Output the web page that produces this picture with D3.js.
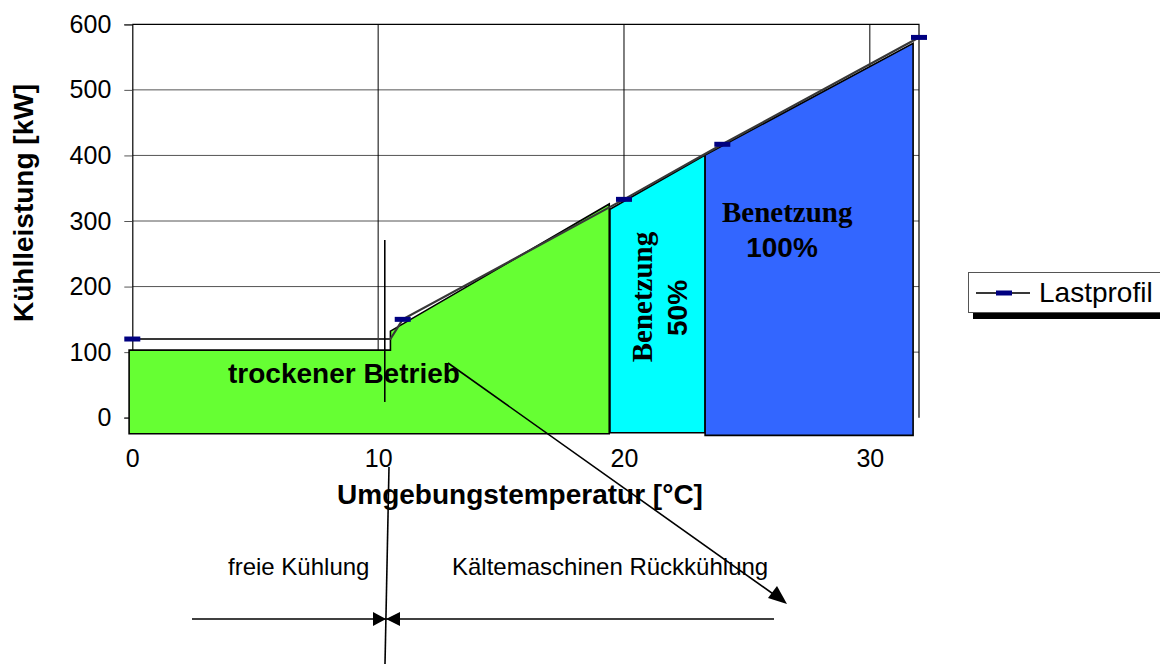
<!DOCTYPE html>
<meta charset="utf-8">
<style>
body {
  margin: 0;
  background: #fff;
  font-family: "Liberation Sans", Arial, sans-serif;
}
.axis text {
  font-size: 25px;
  fill: #000;
}
</style>
<body>
<div id="chart"></div>
<script src="https://d3js.org/d3.v7.min.js"></script>
<script>

// ticks
const tempTicks = [0, 10, 20, 30];
const loadTicks = [0, 100, 200, 300, 400, 500, 600];

// Lastprofil series (temperature in °C, load in kW)
const lastTemp = [0, 10.5, 11, 20, 24, 32];
const lastLoad = [120, 120, 150, 333, 417, 580];
const lastMarker = [true, false, true, true, true, true];

// operating zones drawn over the chart
const dryTemp = [-0.13, -0.13, 10.5, 10.5, 19.4, 19.4];
const dryLoad = [-24.5, 103, 103, 132, 326, -24.5];
const halfTemp = [19.43, 19.43, 23.3, 23.3];
const halfLoad = [-23, 318, 400.5, -23];
const fullTemp = [23.3, 23.3, 31.76, 31.76];
const fullLoad = [-27, 400.5, 571, -27];
const zoneColors = ["#66ff33", "#00ffff", "#3366ff"];

// limit marker between free cooling and chiller
const limitTemp = [10.27, 10.27];
const limitLoad = [271, 24];

const width = 1160;
const height = 664;
const margin = {top: 24.3, right: 241, bottom: 246.3, left: 132.3};

const x = d3.scaleLinear()
  .domain([0, 32])
  .range([margin.left, width - margin.right]);

const y = d3.scaleLinear()
  .domain([0, 600])
  .range([height - margin.bottom, margin.top]);

const svg = d3.select("#chart")
  .append("svg")
  .attr("width", width)
  .attr("height", height);

// gridlines
svg.append("g")
  .selectAll("line")
  .data(loadTicks.slice(1, -1))
  .join("line")
    .attr("x1", x(0))
    .attr("x2", x(32))
    .attr("y1", d => y(d))
    .attr("y2", d => y(d))
    .attr("stroke", "#555")
    .attr("stroke-width", 1);

svg.append("g")
  .selectAll("line")
  .data(tempTicks.slice(1))
  .join("line")
    .attr("x1", d => x(d))
    .attr("x2", d => x(d))
    .attr("y1", y(600))
    .attr("y2", y(0))
    .attr("stroke", "#000")
    .attr("stroke-width", 1);

// frame top + right
svg.append("path")
  .attr("d", `M${x(0)},${y(600)}H${x(32)}V${y(0)}`)
  .attr("fill", "none")
  .attr("stroke", "#000")
  .attr("stroke-width", 1.2);

// y axis
svg.append("g")
  .attr("class", "axis")
  .attr("transform", `translate(${x(0)},0)`)
  .call(d3.axisLeft(y).tickValues(loadTicks).tickSize(8).tickPadding(13))
  .call(g => g.select(".domain").attr("stroke", "#000").attr("stroke-width", 1.2))
  .call(g => g.selectAll(".tick line").attr("stroke", "#555"))
  .selectAll("text")
    .attr("font-family", "Liberation Sans, Arial, sans-serif");

// zones
const zones = [
  d3.zip(dryTemp, dryLoad),
  d3.zip(halfTemp, halfLoad),
  d3.zip(fullTemp, fullLoad)
];

svg.append("g")
  .selectAll("polygon")
  .data(zones)
  .join("polygon")
    .attr("points", d => d.map(p => [x(p[0]), y(p[1])].join(",")).join(" "))
    .attr("fill", (d, i) => zoneColors[i])
    .attr("stroke", "#000")
    .attr("stroke-width", 1.6)
    .attr("stroke-linejoin", "miter");

// x axis labels
svg.append("g")
  .attr("class", "axis")
  .attr("transform", `translate(0,${y(0)})`)
  .call(d3.axisBottom(x).tickValues(tempTicks).tickSize(0).tickPadding(32).tickFormat(d3.format("d")))
  .call(g => g.select(".domain").remove())
  .selectAll("text")
    .attr("font-family", "Liberation Sans, Arial, sans-serif");

// Lastprofil line
const lastPoints = d3.zip(lastTemp, lastLoad);
svg.append("path")
  .datum(lastPoints)
  .attr("d", d3.line().x(d => x(d[0])).y(d => y(d[1])))
  .attr("fill", "none")
  .attr("stroke", "#383838")
  .attr("stroke-width", 2.2);

svg.append("g")
  .selectAll("rect")
  .data(lastPoints.filter((d, i) => lastMarker[i]))
  .join("rect")
    .attr("x", d => x(d[0]) - 8)
    .attr("y", d => y(d[1]) - 2.5)
    .attr("width", 16)
    .attr("height", 5)
    .attr("fill", "#000080");

// vertical limit line
svg.append("line")
  .attr("x1", x(limitTemp[0]))
  .attr("x2", x(limitTemp[1]))
  .attr("y1", y(limitLoad[0]))
  .attr("y2", y(limitLoad[1]))
  .attr("stroke", "#000")
  .attr("stroke-width", 1.6);

// zone labels
svg.append("text")
  .attr("x", 228)
  .attr("y", 383)
  .attr("font-size", "28px")
  .attr("font-weight", "bold")
  .text("trockener Betrieb");

svg.append("text")
  .attr("x", 722)
  .attr("y", 222)
  .attr("font-family", "Liberation Serif, Times New Roman, serif")
  .attr("font-size", "29px")
  .attr("font-weight", "bold")
  .text("Benetzung");

svg.append("text")
  .attr("x", 782)
  .attr("y", 257)
  .attr("text-anchor", "middle")
  .attr("font-size", "28px")
  .attr("font-weight", "bold")
  .text("100%");

svg.append("text")
  .attr("transform", "translate(652,297) rotate(-90)")
  .attr("text-anchor", "middle")
  .attr("font-family", "Liberation Serif, Times New Roman, serif")
  .attr("font-size", "29px")
  .attr("font-weight", "bold")
  .text("Benetzung");

svg.append("text")
  .attr("transform", "translate(687,308) rotate(-90)")
  .attr("text-anchor", "middle")
  .attr("font-size", "28px")
  .attr("font-weight", "bold")
  .text("50%");

// axis titles
svg.append("text")
  .attr("transform", "translate(33,203) rotate(-90)")
  .attr("text-anchor", "middle")
  .attr("font-size", "28px")
  .attr("font-weight", "bold")
  .text("Kühlleistung [kW]");

svg.append("text")
  .attr("x", 520)
  .attr("y", 504)
  .attr("text-anchor", "middle")
  .attr("font-size", "28px")
  .attr("font-weight", "bold")
  .text("Umgebungstemperatur [°C]");

// legend
svg.append("rect")
  .attr("x", 973).attr("y", 278)
  .attr("width", 200).attr("height", 41)
  .attr("fill", "#000");
svg.append("rect")
  .attr("x", 968.5).attr("y", 272.5)
  .attr("width", 200).attr("height", 40)
  .attr("fill", "#fff")
  .attr("stroke", "#555")
  .attr("stroke-width", 1);
svg.append("line")
  .attr("x1", 976).attr("x2", 1030)
  .attr("y1", 293).attr("y2", 293)
  .attr("stroke", "#383838")
  .attr("stroke-width", 2.2);
svg.append("rect")
  .attr("x", 996).attr("y", 290.5)
  .attr("width", 16).attr("height", 5)
  .attr("fill", "#000080");
svg.append("text")
  .attr("x", 1039).attr("y", 302)
  .attr("font-size", "28px")
  .text("Lastprofil");

// annotations below the chart
const ann = svg.append("g").attr("stroke", "#000").attr("stroke-width", 1.6);

ann.append("line") // diagonal arrow
  .attr("x1", 448).attr("y1", 363)
  .attr("x2", 776).attr("y2", 596);
svg.append("polygon")
  .attr("points", "787,604 768,598 777,586")
  .attr("fill", "#000");

ann.append("line") // slanted divider
  .attr("x1", 389).attr("y1", 467)
  .attr("x2", 385).attr("y2", 664);

ann.append("line")
  .attr("x1", 192).attr("y1", 619)
  .attr("x2", 774).attr("y2", 619);

svg.append("polygon")
  .attr("points", "386,619 373,612 373,626")
  .attr("fill", "#000");
svg.append("polygon")
  .attr("points", "386,619 400,612 400,626")
  .attr("fill", "#000");

svg.append("text")
  .attr("x", 228).attr("y", 575)
  .attr("font-size", "24px")
  .text("freie Kühlung");

svg.append("text")
  .attr("x", 452).attr("y", 575)
  .attr("font-size", "24px")
  .text("Kältemaschinen Rückkühlung");

</script>
